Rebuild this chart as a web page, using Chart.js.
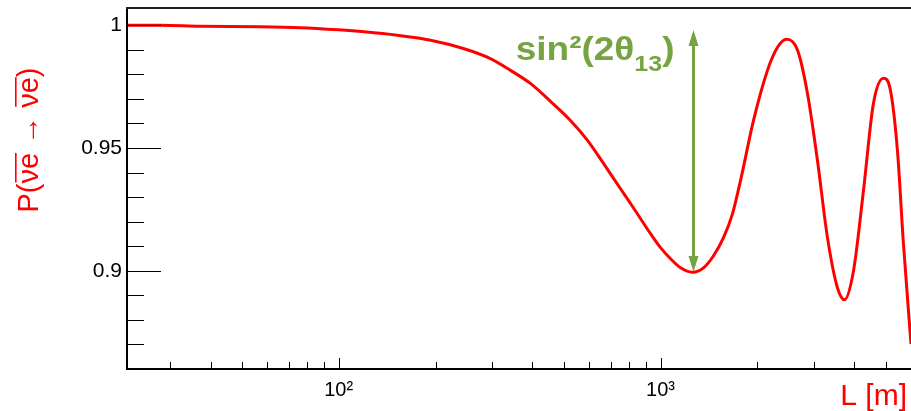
<!DOCTYPE html>
<html>
<head>
<meta charset="utf-8">
<script src="https://cdn.jsdelivr.net/npm/chart.js@4"></script>
<style>
html, body { margin: 0; padding: 0; background: #fff; overflow: hidden; }
#wrap { width: 911px; height: 411px; position: relative; }
</style>
</head>
<body>
<div id="wrap"><canvas id="myChart"></canvas></div>
<script>
// baseline L [m] and survival probability
var distances = [22, 28, 37, 57, 76, 100, 120, 152, 193, 244, 296, 342, 395, 455, 525, 593, 665, 751, 807, 867,
                 931, 1000, 1074, 1154, 1257, 1360, 1461, 1569, 1674, 1772, 1945, 2149, 2309, 2462, 2665, 2861,
                 3073, 3301, 3545, 3728, 3977, 4271, 4587, 4926, 5179, 5445, 5684, 6000];
var survival = [1.0000, 1.0000, 0.9996, 0.9994, 0.9990, 0.9981, 0.9973, 0.9959, 0.9939, 0.9905, 0.9864, 0.9816,
                0.9762, 0.9690, 0.9612, 0.9531, 0.9437, 0.9334, 0.9274, 0.9212, 0.9151, 0.9094, 0.9049, 0.9012,
                0.8994, 0.9012, 0.9061, 0.9135, 0.9233, 0.9367, 0.9612, 0.9816, 0.9910, 0.9943, 0.9898, 0.9722,
                0.9449, 0.9135, 0.8931, 0.8882, 0.9000, 0.9327, 0.9682, 0.9784, 0.9735, 0.9490, 0.9110, 0.8702];

// axis ticks
var xLabelTicks = [100, 1000];
var xMinorTicks = [30, 40, 50, 60, 70, 80, 90, 200, 300, 400, 500, 600, 700, 800, 900, 2000, 3000, 4000, 5000];
var yLabelTicks = [0.9, 0.95, 1.0];
var yMinorTicks = [0.86, 0.87, 0.88, 0.89, 0.91, 0.92, 0.93, 0.94, 0.96, 0.97, 0.98, 0.99];

// sin^2(2 theta13) arrow: at L, from top to bottom probability
var arrowL = 1265;
var arrowTop = 0.998;
var arrowBottom = 0.8995;

var RED = '#ff0000';
var GREEN = '#77a443';
var FONT = '"Liberation Sans", Arial, Helvetica, sans-serif';

var points = distances.map(function(d, i) { return { x: d, y: survival[i] }; });

var rootFrame = {
  id: 'rootFrame',
  afterDraw: function(chart) {
    var ctx = chart.ctx, a = chart.chartArea;
    var xs = chart.scales.x, ys = chart.scales.y;
    ctx.save();

    // frame
    ctx.fillStyle = '#000';
    ctx.fillRect(a.left - 1, a.top - 1, 2, a.bottom - a.top + 2);
    ctx.fillRect(a.left - 1, a.bottom - 1, a.right - a.left + 1, 2);
    ctx.fillStyle = '#222';
    ctx.fillRect(a.left - 1, a.top - 1, a.right - a.left + 1, 2);

    // inner ticks
    ctx.strokeStyle = '#000';
    ctx.lineWidth = 1;
    function seg(x1, y1, x2, y2) {
      ctx.beginPath(); ctx.moveTo(x1, y1); ctx.lineTo(x2, y2); ctx.stroke();
    }
    yMinorTicks.forEach(function(v) {
      var y = Math.round(ys.getPixelForValue(v)) + 0.5;
      seg(a.left, y, a.left + 17, y);
    });
    yLabelTicks.forEach(function(v) {
      var y = Math.round(ys.getPixelForValue(v)) + 0.5;
      seg(a.left, y, a.left + 34, y);
    });
    xMinorTicks.forEach(function(v) {
      var x = Math.round(xs.getPixelForValue(v)) + 0.5;
      seg(x, a.bottom, x, a.bottom - 7);
    });
    xLabelTicks.forEach(function(v) {
      var x = Math.round(xs.getPixelForValue(v)) + 0.5;
      seg(x, a.bottom, x, a.bottom - 11);
    });

    // arrow
    var ax = Math.round(xs.getPixelForValue(arrowL)) + 0.5;
    var at = ys.getPixelForValue(arrowTop);
    var ab = ys.getPixelForValue(arrowBottom);
    ctx.strokeStyle = GREEN;
    ctx.fillStyle = GREEN;
    ctx.lineWidth = 3;
    seg(ax, at + 12, ax, ab - 12);
    ctx.beginPath(); ctx.moveTo(ax, at); ctx.lineTo(ax - 5, at + 16); ctx.lineTo(ax + 5, at + 16); ctx.closePath(); ctx.fill();
    ctx.beginPath(); ctx.moveTo(ax, ab); ctx.lineTo(ax - 5, ab - 16); ctx.lineTo(ax + 5, ab - 16); ctx.closePath(); ctx.fill();

    // sin^2(2theta13) label (slightly squashed vertically like the original)
    var big = 'bold 37px ' + FONT, small = 'bold 25px ' + FONT;
    ctx.textBaseline = 'alphabetic';
    ctx.textAlign = 'left';
    ctx.font = big;
    var w1 = ctx.measureText('sin\u00b2(2\u03b8').width;
    var w3 = ctx.measureText(')').width;
    ctx.font = small;
    var w2 = ctx.measureText('13').width;
    var tx = ax - 19 - (w1 + w2 + w3);
    ctx.save();
    ctx.translate(tx, 59.5);
    ctx.scale(1, 0.9);
    ctx.font = big;
    ctx.fillText('sin\u00b2(2\u03b8', 0, 0);
    ctx.font = small;
    ctx.fillText('13', w1, 13);
    ctx.font = big;
    ctx.fillText(')', w1 + w2, 0);
    ctx.restore();

    // x title
    ctx.fillStyle = RED;
    ctx.font = '30px ' + FONT;
    ctx.textAlign = 'right';
    ctx.fillText('L [m]', 907, 405);

    // y title with overlines, rotated
    ctx.translate(38, 140);
    ctx.rotate(-Math.PI / 2);
    ctx.textAlign = 'left';
    ctx.font = '29px ' + FONT;
    var parts = [['P(', false], ['\u03bde', true], [' \u2192 ', false], ['\u03bde', true], [')', false]];
    var total = 0;
    parts.forEach(function(p) { total += ctx.measureText(p[0]).width; });
    var px = -total / 2;
    parts.forEach(function(p) {
      var w = ctx.measureText(p[0]).width;
      ctx.fillText(p[0], px, 0);
      if (p[1]) ctx.fillRect(px + 1, -23, w - 1, 1.6);
      px += w;
    });
    ctx.restore();
  }
};

var ctx = document.getElementById('myChart').getContext('2d');
var chart = new Chart(ctx, {
  type: 'line',
  data: {
    datasets: [{
      label: 'P',
      data: points,
      borderColor: RED,
      borderWidth: 3,
      pointRadius: 0,
      fill: false,
      cubicInterpolationMode: 'monotone'
    }]
  },
  options: {
    responsive: true,
    maintainAspectRatio: false,
    animation: false,
    devicePixelRatio: 1,
    layout: { padding: { top: 8, right: 0, left: 0, bottom: 0 } },
    plugins: { legend: { display: false }, tooltip: { enabled: false } },
    scales: {
      x: {
        type: 'logarithmic',
        min: 22,
        max: 6000,
        grid: { display: false, drawTicks: false },
        border: { display: false },
        afterBuildTicks: function(scale) { scale.ticks = xLabelTicks.map(function(v) { return { value: v }; }); },
        afterFit: function(scale) {
          scale.height = 42;
          scale.paddingLeft = 0; scale.paddingRight = 0;
        },
        ticks: {
          autoSkip: false,
          maxRotation: 0,
          padding: 9,
          color: '#000',
          font: { size: 20, family: FONT },
          callback: function(v) { return v === 100 ? '10\u00b2' : v === 1000 ? '10\u00b3' : null; }
        }
      },
      y: {
        min: 0.86,
        max: 1.007,
        grid: { display: false, drawTicks: false },
        border: { display: false },
        afterBuildTicks: function(scale) { scale.ticks = yLabelTicks.map(function(v) { return { value: v }; }); },
        afterFit: function(scale) {
          scale.width = 127;
          scale.paddingTop = 0; scale.paddingBottom = 0;
        },
        ticks: {
          autoSkip: false,
          padding: 5,
          color: '#000',
          font: { size: 21, family: FONT },
          callback: function(v) { return String(Math.round(v * 100) / 100); }
        }
      }
    }
  },
  plugins: [rootFrame]
});
</script>
</body>
</html>
